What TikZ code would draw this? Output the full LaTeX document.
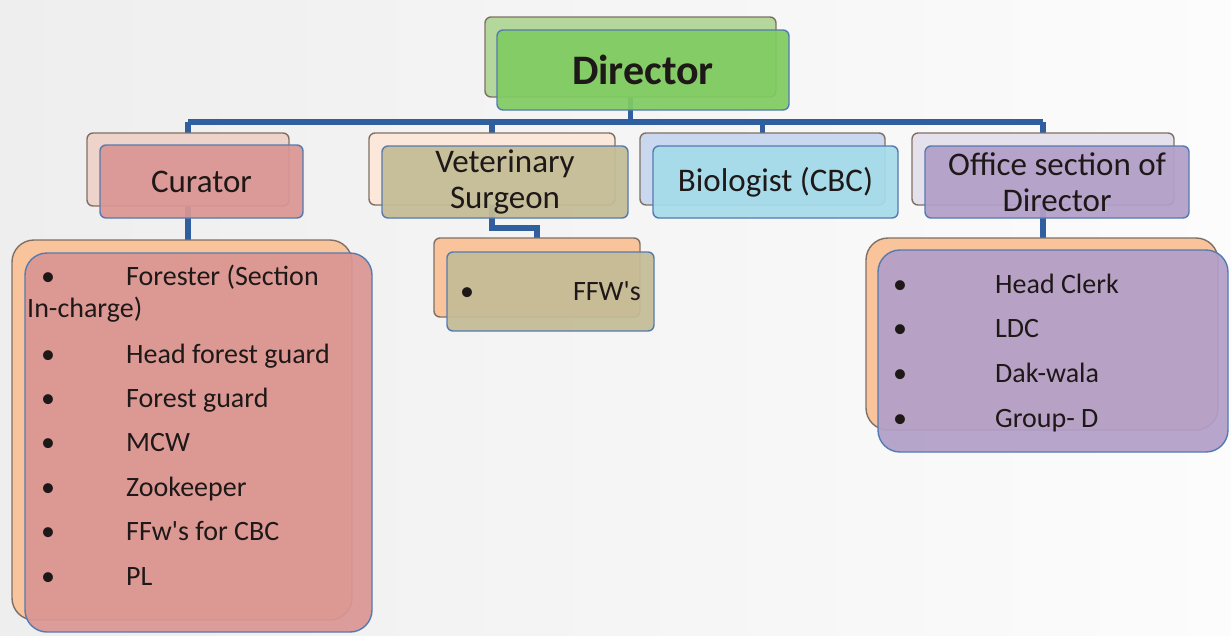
\documentclass[tikz,border=0pt]{standalone}
\usepackage{fontspec}
\setmainfont{Carlito}
\usetikzlibrary{calc}

\definecolor{linkblue}{RGB}{47,95,158}
\definecolor{backline}{RGB}{128,112,100}
\definecolor{frontline}{RGB}{84,122,176}
\definecolor{peach}{RGB}{249,196,155}
\definecolor{dirback}{RGB}{180,216,156}
\definecolor{dirfront}{RGB}{128,204,98}
\definecolor{curback}{RGB}{238,211,203}
\definecolor{curfront}{RGB}{218,150,148}
\definecolor{vetback}{RGB}{251,232,218}
\definecolor{vetfront}{RGB}{196,188,150}
\definecolor{bioback}{RGB}{201,216,238}
\definecolor{biofront}{RGB}{166,220,234}
\definecolor{offback}{RGB}{228,224,236}
\definecolor{offfront}{RGB}{178,159,200}
\definecolor{txt}{RGB}{30,24,24}

\begin{document}
\begin{tikzpicture}[x=1pt, y=-1pt,
    backbox/.style={draw=backline, line width=1.4pt, rounded corners=6pt, inner sep=0pt},
    frontbox/.style={draw=frontline, line width=1.4pt, rounded corners=6pt, inner sep=0pt,
        fill opacity=0.93, text opacity=1, text=txt, align=center,
        font=\fontsize{33}{36}\selectfont},
    listback/.style={backbox, rounded corners=22pt, fill=peach},
    listfront/.style={frontbox, rounded corners=22pt},
    item/.style={inner sep=0pt, text=txt, font=\fontsize{28}{34}\selectfont},
    link/.style={draw=linkblue, line width=5.5pt}]
    % page
    \useasboundingbox (0,0) rectangle (1231,635);
    \shade[left color={rgb,255:red,238;green,238;blue,238}, right color={rgb,255:red,252;green,252;blue,252}]
        (0,0) rectangle (1231,635);

    % back boxes (named first, drawn later)
    \path
        (630.5,57) node[minimum width=291pt, minimum height=80pt] (directorback) {}
        (188,169.5) node[minimum width=202pt, minimum height=73pt] (curatorback) {}
        (492,169) node[minimum width=246pt, minimum height=72pt] (vetback) {}
        (762.5,169) node[minimum width=245pt, minimum height=72pt] (bioback) {}
        (1043,169) node[minimum width=262pt, minimum height=72pt] (officeback) {}
        (182,430) node[minimum width=340pt, minimum height=380pt] (curlistback) {}
        (537,277.5) node[minimum width=206pt, minimum height=79pt] (ffwback) {}
        (1042,334) node[minimum width=352pt, minimum height=192pt] (offlistback) {};

    % connectors
    \coordinate (bar) at (0,122);
    \draw[link] (directorback.south) -- (directorback.south |- bar);
    \draw[link] (curatorback.north |- bar) -- (officeback.north |- bar);
    \foreach \b in {curatorback, vetback, bioback, officeback} {
        \draw[link] (\b.north |- bar) -- (\b.north);
    }
    \draw[link] (curatorback.south) -- (curatorback.south |- curlistback.north);
    \draw[link] (vetback.south) -- ++(0,23) -| (ffwback.north);
    \draw[link] (officeback.south) -- (officeback.south |- offlistback.north);

    % top level
    \node[backbox, fill=dirback, minimum width=291pt, minimum height=80pt] at (directorback) {};
    \node[frontbox, fill=dirfront, minimum width=292pt, minimum height=80pt,
        font=\fontsize{42}{46}\selectfont\bfseries] (director) at (643,70) {Director};

    % second level
    \node[backbox, fill=curback, minimum width=202pt, minimum height=73pt] at (curatorback) {};
    \node[frontbox, fill=curfront, minimum width=203pt, minimum height=73pt] (curator) at (201.5,181.5) {Curator};
    \node[backbox, fill=vetback, minimum width=246pt, minimum height=72pt] at (vetback) {};
    \node[frontbox, fill=vetfront, minimum width=246pt, minimum height=72pt] (vet) at (505,182) {Veterinary\\Surgeon};
    \node[backbox, fill=bioback, minimum width=245pt, minimum height=72pt] at (bioback) {};
    \node[frontbox, fill=biofront, minimum width=245pt, minimum height=72pt] (bio) at (775.5,182) {Biologist (CBC)};
    \node[backbox, fill=offback, minimum width=262pt, minimum height=72pt] at (officeback) {};
    \node[frontbox, fill=offfront, minimum width=264pt, minimum height=72pt] (office) at (1057,182) {Office section of\\Director};

    % staff lists
    \node[listback, minimum width=340pt, minimum height=380pt] at (curlistback) {};
    \node[listfront, fill=curfront, minimum width=347pt, minimum height=379pt] (curlist) at (198.5,442.5) {};
    \node[listback, rounded corners=6pt, minimum width=206pt, minimum height=79pt] at (ffwback) {};
    \node[listfront, rounded corners=6pt, fill=vetfront, minimum width=207pt, minimum height=79pt] (ffwlist) at (550.5,291.5) {};
    \node[listback, minimum width=352pt, minimum height=192pt] at (offlistback) {};
    \node[listfront, fill=offfront, minimum width=350pt, minimum height=202pt] (offlist) at (1053,351) {};

    % curator items
    \node[item, anchor=base] (curdot0) at (48,285) {\textbullet};
    \node[item, anchor=base west] (curitem0) at (126,285) {Forester (Section};
    \node[item, anchor=base west] (curwrap) at (27,317) {In-charge)};
    \foreach \t [count=\i] in {Head forest guard, Forest guard, MCW, Zookeeper,
            FFw\textquotesingle s for CBC, PL} {
        \node[item, anchor=base] (curdot\i) at (48,{363+44.4*(\i-1)}) {\textbullet};
        \node[item, anchor=base west] (curitem\i) at (126,{363+44.4*(\i-1)}) {\t};
    }

    % veterinary items
    \node[item, anchor=base] (ffwdot) at (467,300) {\textbullet};
    \node[item, anchor=base east] (ffwitem) at (641,300) {FFW\textquotesingle s};

    % office items
    \foreach \t [count=\i] in {Head Clerk, LDC, Dak-wala, Group- D} {
        \node[item, anchor=base] (offdot\i) at (900,{293+44.7*(\i-1)}) {\textbullet};
        \node[item, anchor=base west] (offitem\i) at (995,{293+44.7*(\i-1)}) {\t};
    }
\end{tikzpicture}
\end{document}
